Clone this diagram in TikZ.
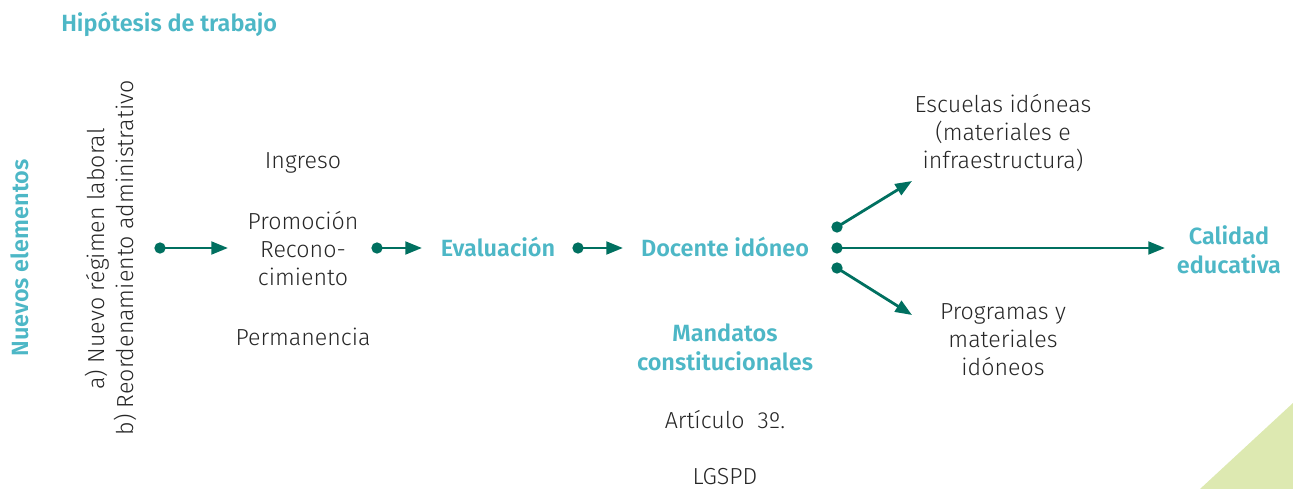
\documentclass[tikz,border=0pt]{standalone}
\usepackage{fontspec}
\setmainfont{Fira Sans}[UprightFont=* Light, BoldFont=* SemiBold]
\usetikzlibrary{arrows.meta}
\definecolor{teal1}{RGB}{77,183,198}
\definecolor{arr}{RGB}{0,112,96}
\definecolor{lime}{RGB}{221,233,177}
\tikzset{
  body/.style={font=\fontsize{17.4}{21}\selectfont, text=black!85, align=center, inner sep=0pt},
  head/.style={font=\fontsize{17.6}{21.5}\selectfont\bfseries, text=teal1, align=center, inner sep=0pt},
  conn/.style={draw=arr, line width=2.1pt, -{Triangle[length=12.5pt,width=9.5pt]}},
  dotc/.style={circle, fill=arr, minimum size=8.5pt, inner sep=0pt},
}
\begin{document}
\begin{tikzpicture}[x=0.75pt,y=-0.75pt]
\useasboundingbox (0,0) rectangle (1293,489);
\fill[lime] (1200,489) -- (1293,403) -- (1293,489) -- cycle;
\node[head, anchor=west] (title) at (61,24) {Hipótesis de trabajo};
\node[head, rotate=90] (nuevos) at (20,258) {Nuevos elementos};
\node[body, rotate=90] (a) at (97,259) {a) Nuevo régimen laboral};
\node[body, rotate=90] (b) at (125,258) {b) Reordenamiento administrativo};
\node[body] (ingreso) at (303,163) {Ingreso};
\node[body] (promo) at (303,249) {Promoción\\Recono-\\cimiento};
\node[body] (perm) at (303,337) {Permanencia};
\node[head] (eval) at (498,247) {Evaluación};
\node[head] (doc) at (725,247) {Docente idóneo};
\node[head] (mand) at (725,347) {Mandatos\\constitucionales};
\node[body] (art) at (725,420) {Artículo\ \ 3º.};
\node[body] (lgspd) at (725,477) {LGSPD};
\node[body] (esc) at (1003,133) {Escuelas idóneas\\(materiales e\\infraestructura)};
\node[body] (prog) at (1003,340) {Programas y\\materiales\\idóneos};
\node[head] (cal) at (1229,250) {Calidad\\educativa};
% dots
\node[dotc] (d1) at (160,248) {};
\node[dotc] (d2) at (377,248) {};
\node[dotc] (d3) at (578,248) {};
\node[dotc] (d4) at (837,227) {};
\node[dotc] (d5) at (837,248) {};
\node[dotc] (d6) at (837,268) {};
\coordinate (t1) at (228,248);
\coordinate (t2) at (422,248);
\coordinate (t3) at (623,248);
\coordinate (t4) at (912,181);
\coordinate (t5) at (1165,248);
\coordinate (t6) at (912,315);
\draw[conn] (d1.center) -- (t1);
\draw[conn] (d2.center) -- (t2);
\draw[conn] (d3.center) -- (t3);
\draw[conn] (d4.center) -- (t4);
\draw[conn] (d5.center) -- (t5);
\draw[conn] (d6.center) -- (t6);
\end{tikzpicture}
\end{document}
